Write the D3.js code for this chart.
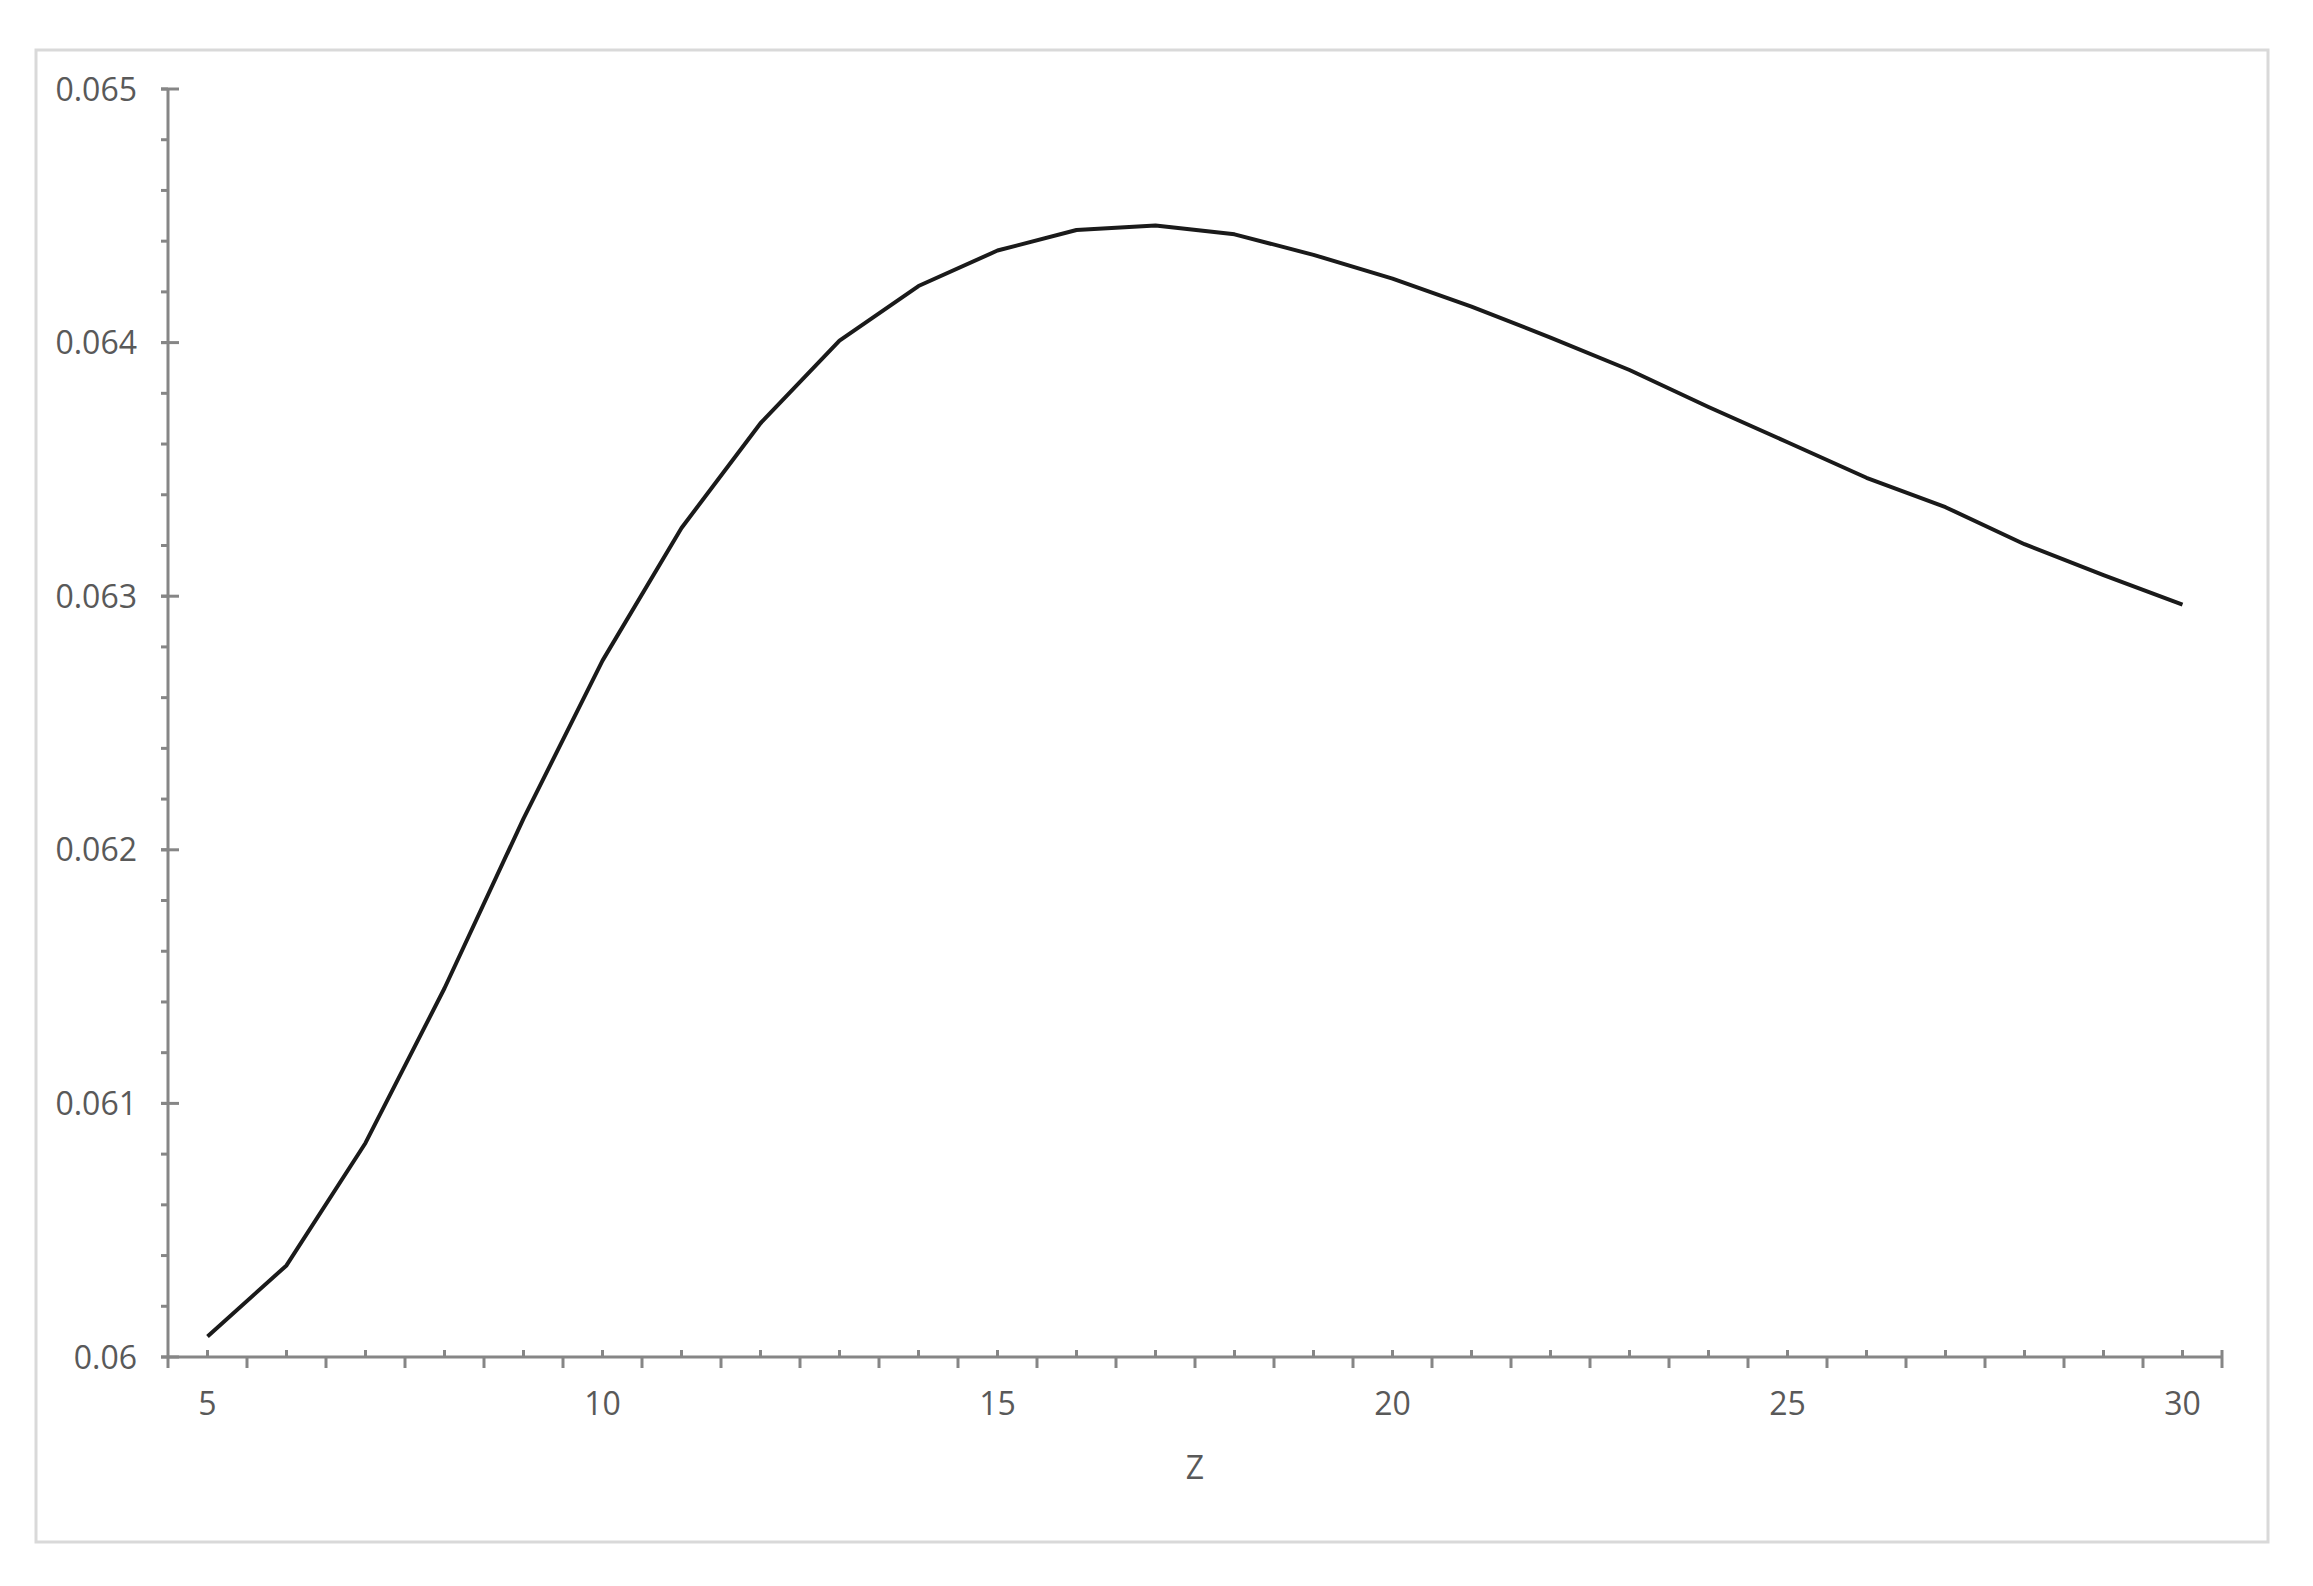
<!DOCTYPE html>
<html lang="en">
<head>
	<meta charset="utf-8">
	<title>Z curve</title>
	<script src="https://cdn.jsdelivr.net/npm/d3@7"></script>
	<style>
		body { margin: 0; background: #fff; }
		text { font-family: "Open Sans", sans-serif; fill: #595959; }
	</style>
</head>
<body>
	<script>
		var w = 2313;
		var h = 1586;

		// data
		var zValues = [5, 6, 7, 8, 9, 10, 11, 12, 13, 14, 15, 16, 17, 18, 19, 20, 21, 22, 23, 24, 25, 26, 27, 28, 29, 30];
		var series = [0.060081, 0.060361, 0.060844, 0.061454, 0.062123, 0.062746, 0.063269, 0.063682,
			0.064008, 0.064223, 0.064363, 0.064444, 0.064462, 0.064427, 0.064346, 0.064252,
			0.064142, 0.064020, 0.063892, 0.063746, 0.063607, 0.063467, 0.063351, 0.063205,
			0.063083, 0.062967];
		var yTicks = [0.060, 0.061, 0.062, 0.063, 0.064, 0.065];
		var yTickLabels = ["0.06", "0.061", "0.062", "0.063", "0.064", "0.065"];
		var xTickLabels = [5, 10, 15, 20, 25, 30];
		var xTitle = "Z";

		// plot area (don't call it "top", that's window.top)
		var plotLeft = 168, plotRight = 2222, plotTop = 89, plotBottom = 1357;
		var axisColor = "#868686";

		var x = d3.scaleBand().domain(zValues).range([plotLeft, plotRight]).padding(0);
		var y = d3.scaleLinear().domain([0.060, 0.065]).range([plotBottom, plotTop]);
		var cx = function(d) { return x(d) + x.bandwidth() / 2; };

		var svg = d3.select("body")
					.append("svg")
					.attr("width", w)
					.attr("height", h);

		svg.append("rect")
		   .attr("x", 0).attr("y", 0).attr("width", w).attr("height", h)
		   .attr("fill", "#fff");

		// outer chart frame
		svg.append("rect")
		   .attr("x", 36).attr("y", 50).attr("width", 2232).attr("height", 1492)
		   .attr("fill", "none")
		   .attr("stroke", "#d9d9d9")
		   .attr("stroke-width", 3);

		var axes = svg.append("g")
					  .attr("stroke", axisColor)
					  .attr("stroke-width", 3);

		// y minor ticks (left side only)
		var yMinor = d3.range(0, 26).map(function(i) { return 0.060 + i * 0.0002; });
		axes.selectAll(".yminor")
			.data(yMinor)
			.enter()
			.append("line")
			.attr("x1", plotLeft - 7).attr("x2", plotLeft)
			.attr("y1", function(d) { return y(d); })
			.attr("y2", function(d) { return y(d); });

		// y major ticks cross the axis
		axes.selectAll(".ymajor")
			.data(yTicks)
			.enter()
			.append("line")
			.attr("x1", plotLeft - 7).attr("x2", plotLeft + 11)
			.attr("y1", function(d) { return y(d); })
			.attr("y2", function(d) { return y(d); });

		// x ticks: down at category boundaries, up at category centres
		var bounds = zValues.map(function(d) { return x(d); }).concat([plotRight]);
		axes.selectAll(".xmajor")
			.data(bounds)
			.enter()
			.append("line")
			.attr("x1", function(d) { return d; })
			.attr("x2", function(d) { return d; })
			.attr("y1", function(d, i) { return (i == bounds.length - 1) ? plotBottom - 7 : plotBottom; })
			.attr("y2", plotBottom + 11);
		axes.selectAll(".xminor")
			.data(zValues)
			.enter()
			.append("line")
			.attr("x1", cx).attr("x2", cx)
			.attr("y1", plotBottom - 7).attr("y2", plotBottom);

		// axis lines
		axes.append("line")
			.attr("x1", plotLeft).attr("x2", plotLeft)
			.attr("y1", plotTop).attr("y2", plotBottom);
		axes.append("line")
			.attr("x1", plotLeft).attr("x2", plotRight)
			.attr("y1", plotBottom).attr("y2", plotBottom);

		// tick labels
		svg.selectAll(".ylabel")
		   .data(yTicks)
		   .enter()
		   .append("text")
		   .attr("x", 137)
		   .attr("y", function(d) { return y(d); })
		   .attr("dy", "0.36em")
		   .attr("text-anchor", "end")
		   .style("font-size", "32px")
		   .text(function(d, i) { return yTickLabels[i]; });

		svg.selectAll(".xlabel")
		   .data(xTickLabels)
		   .enter()
		   .append("text")
		   .attr("x", cx)
		   .attr("y", 1415)
		   .attr("text-anchor", "middle")
		   .style("font-size", "32px")
		   .text(function(d) { return d; });

		svg.append("text")
		   .attr("x", (plotLeft + plotRight) / 2)
		   .attr("y", 1479)
		   .attr("text-anchor", "middle")
		   .style("font-size", "32px")
		   .text(xTitle);

		// the curve
		var line = d3.line()
					 .x(function(d, i) { return cx(zValues[i]); })
					 .y(function(d) { return y(d); });

		svg.append("path")
		   .datum(series)
		   .attr("d", line)
		   .attr("fill", "none")
		   .attr("stroke", "#1a1a1a")
		   .attr("stroke-width", 4)
		   .attr("stroke-linejoin", "round");
	</script>
</body>
</html>
